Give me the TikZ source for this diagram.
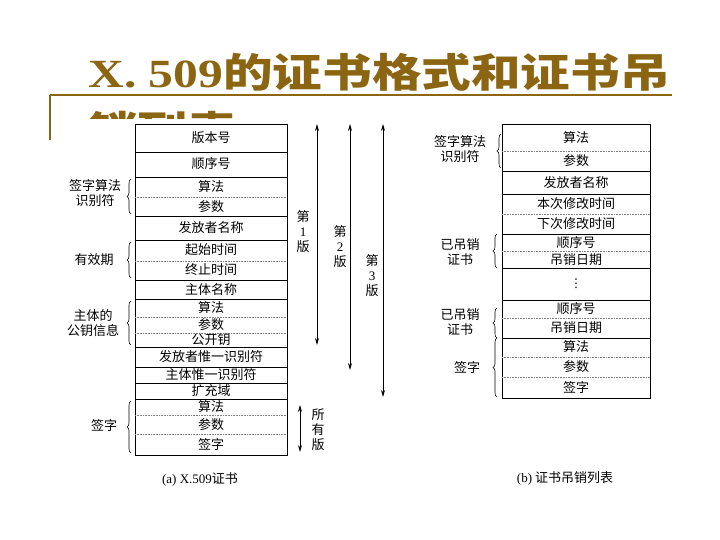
\documentclass[tikz,border=0pt]{standalone}
\usepackage{fontspec}
\setmainfont{Liberation Serif}
\newfontfamily\cjk{Noto Sans CJK SC}
\newfontfamily\dvs{DejaVu Sans}
\usetikzlibrary{decorations.pathreplacing,arrows.meta}
\definecolor{gold}{RGB}{139,101,18}
\tikzset{
 cell/.style={font=\cjk\fontsize{13}{13}\selectfont,inner sep=0pt},
 lab/.style={font=\cjk\fontsize{13}{15}\selectfont,align=center,inner sep=0pt},
 solidl/.style={black,line width=0.8pt},
 dotl/.style={gray,densely dotted,line width=0.6pt},
 brc/.style={decorate,decoration={brace,amplitude=4pt},line width=0.6pt},
 arr/.style={line width=0.8pt,{Stealth[length=7pt,width=4pt]}-{Stealth[length=7pt,width=4pt]}},
}
\begin{document}
\begin{tikzpicture}[x=1pt,y=-1pt]
\useasboundingbox (0,0) rectangle (720,539);
\fill[white] (0,0) rectangle (720,539);
% title
\node[gold,font=\cjk\bfseries\fontsize{40}{40}\selectfont,anchor=west,inner sep=0pt,xscale=1.24] (title) at (88,72) {{\rmfamily X. 509}的证书格式和证书吊};
\node[gold,font=\cjk\bfseries\fontsize{40}{40}\selectfont,anchor=west,inner sep=0pt,xscale=1.24] (title2) at (88,130) {销列表};
\draw[gold,line width=1.5pt] (50,95) -- (672,95);
\draw[gold,line width=1.5pt] (50,95) -- (50,140);
\fill[white] (58,119) rectangle (662,495);
% left table
\def\L{135}\def\R{287}
\draw[solidl] (\L,124) rectangle (\R,455);
\foreach \y in {152,177,216,240,280,299,347,367,383,399} \draw[solidl] (\L,\y) -- (\R,\y);
\foreach \y in {197,261,317,333,415,434} \draw[dotl] (\L,\y) -- (\R,\y);
\node[cell] (a1) at (211,138) {版本号};
\node[cell] (a2) at (211,164) {顺序号};
\node[cell] (a3) at (211,187) {算法};
\node[cell] (a4) at (211,207) {参数};
\node[cell] (a5) at (211,228) {发放者名称};
\node[cell] (a6) at (211,250) {起始时间};
\node[cell] (a7) at (211,270) {终止时间};
\node[cell] (a8) at (211,290) {主体名称};
\node[cell] (a9) at (211,308) {算法};
\node[cell] (a10) at (211,325) {参数};
\node[cell] (a11) at (211,340) {公开钥};
\node[cell] (a12) at (211,357) {发放者惟一识别符};
\node[cell] (a13) at (211,375) {主体惟一识别符};
\node[cell] (a14) at (211,391) {扩充域};
\node[cell] (a15) at (211,407) {算法};
\node[cell] (a16) at (211,425) {参数};
\node[cell] (a17) at (211,444) {签字};
\draw[brc] (131,214) -- (131,179);
\draw[brc] (131,278) -- (131,242);
\draw[brc] (131,345) -- (131,301);
\draw[brc] (131,453) -- (131,401);
\node[lab] (b1) at (95,193) {签字算法\\识别符};
\node[lab] (b2) at (94,260) {有效期};
\node[lab] (b3) at (93,323) {主体的\\公钥信息};
\node[lab] (b4) at (104,425) {签字};
% version arrows
\coordinate (v1t) at (317,124); \coordinate (v1b) at (317,345);
\coordinate (v2t) at (350,124); \coordinate (v2b) at (350,370);
\coordinate (v3t) at (383,124); \coordinate (v3b) at (383,397);
\coordinate (v4t) at (300,405); \coordinate (v4b) at (300,452);
\draw[arr] (v1t) -- (v1b);
\draw[arr] (v2t) -- (v2b);
\draw[arr] (v3t) -- (v3b);
\draw[arr] (v4t) -- (v4b);
\node[lab,font=\cjk\fontsize{13}{15}\selectfont] (n1) at (303,232) {第\\{\rmfamily 1}\\版};
\node[lab,font=\cjk\fontsize{13}{15}\selectfont] (n2) at (340,247) {第\\{\rmfamily 2}\\版};
\node[lab,font=\cjk\fontsize{13}{15}\selectfont] (n3) at (372,276) {第\\{\rmfamily 3}\\版};
\node[lab,font=\cjk\fontsize{13}{15}\selectfont] (n4) at (318,430) {所\\有\\版};
% right table
\def\LL{502}\def\RR{650}
\draw[solidl] (\LL,124) rectangle (\RR,398);
\foreach \y in {171,194,234,268,300,338} \draw[solidl] (\LL,\y) -- (\RR,\y);
\foreach \y in {151,214,251,318,357,377} \draw[dotl] (\LL,\y) -- (\RR,\y);
\node[cell] (c1) at (576,138) {算法};
\node[cell] (c2) at (576,161) {参数};
\node[cell] (c3) at (576,183) {发放者名称};
\node[cell] (c4) at (576,204) {本次修改时间};
\node[cell] (c5) at (576,224) {下次修改时间};
\node[cell] (c6) at (576,243) {顺序号};
\node[cell] (c7) at (576,260) {吊销日期};
\node[cell,font=\dvs\fontsize{12}{12}\selectfont] (c8) at (576,284) {⋮};
\node[cell] (c9) at (576,309) {顺序号};
\node[cell] (c10) at (576,328) {吊销日期};
\node[cell] (c11) at (576,347) {算法};
\node[cell] (c12) at (576,367) {参数};
\node[cell] (c13) at (576,387) {签字};
\draw[brc] (501,168) -- (501,134);
\draw[brc] (497,268) -- (497,234);
\draw[brc] (497,338) -- (497,308);
\draw[brc] (497,397) -- (497,338);
\node[lab] (d1) at (460,149) {签字算法\\识别符};
\node[lab] (d2) at (460,252) {已吊销\\证书};
\node[lab] (d3) at (460,322) {已吊销\\证书};
\node[lab] (d4) at (467,367) {签字};
% captions
\node[font=\cjk\fontsize{13}{13}\selectfont] (capa) at (200,479) {{\rmfamily (a)\ X.509}证书};
\node[font=\cjk\fontsize{13}{13}\selectfont] (capb) at (565,478) {{\rmfamily (b)}\ 证书吊销列表};
\end{tikzpicture}
\end{document}
